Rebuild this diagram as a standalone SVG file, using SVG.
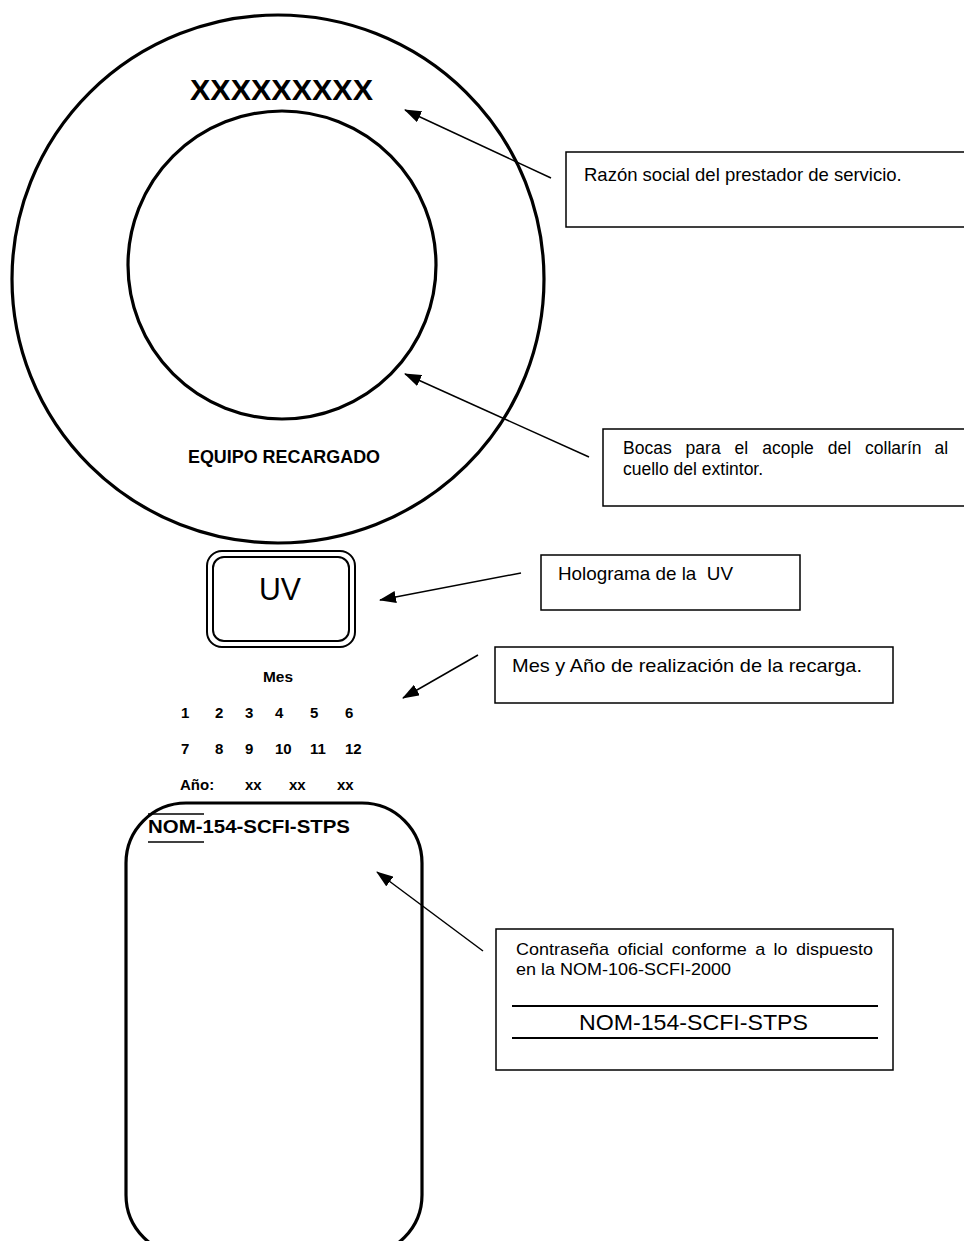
<svg xmlns="http://www.w3.org/2000/svg" width="964" height="1241" viewBox="0 0 964 1241">
<style>
.shape{fill:none;stroke:#000;stroke-width:3.2}
.box{fill:#fff;stroke:#000;stroke-width:1.5}
.con{fill:none;stroke:#000;stroke-width:1.5}
.t{font-family:"Liberation Sans",Arial,sans-serif;fill:#000}
.b{font-weight:bold}
.lbl{font-size:18px}
.num{font-size:15px;font-weight:bold}
</style>
<defs>
<marker id="ah" markerUnits="userSpaceOnUse" markerWidth="17" markerHeight="12" refX="16" refY="6" orient="auto">
<path d="M0,0 L17,6 L0,12 Z" fill="#000"/>
</marker>
</defs>
<rect width="964" height="1241" fill="#fff"/>

<g id="collarin">
<ellipse class="shape" cx="278" cy="279" rx="266" ry="264"/>
<ellipse class="shape" cx="282" cy="265" rx="154" ry="154"/>
<text class="t b" x="190" y="100" font-size="29" textLength="183" lengthAdjust="spacingAndGlyphs">XXXXXXXXX</text>
<text class="t b" x="188" y="463" font-size="17.5" textLength="192" lengthAdjust="spacingAndGlyphs">EQUIPO RECARGADO</text>
</g>

<g id="holograma">
<rect x="207" y="551" width="148" height="96" rx="15" fill="none" stroke="#000" stroke-width="2"/>
<rect x="213" y="557" width="136" height="84" rx="11" fill="none" stroke="#000" stroke-width="2"/>
<text class="t" x="259" y="600" font-size="32" textLength="42" lengthAdjust="spacingAndGlyphs">UV</text>
</g>

<g id="fecha">
<text class="t b" x="263" y="682" font-size="15.5" textLength="30" lengthAdjust="spacingAndGlyphs">Mes</text>
<text class="t num" y="718"><tspan x="181">1</tspan><tspan x="215">2</tspan><tspan x="245">3</tspan><tspan x="275">4</tspan><tspan x="310">5</tspan><tspan x="345">6</tspan></text>
<text class="t num" y="754"><tspan x="181">7</tspan><tspan x="215">8</tspan><tspan x="245">9</tspan><tspan x="275">10</tspan><tspan x="310">11</tspan><tspan x="345">12</tspan></text>
<text class="t num" y="790"><tspan x="180">Año:</tspan><tspan x="245">xx</tspan><tspan x="289">xx</tspan><tspan x="337">xx</tspan></text>
</g>

<g id="contrasena">
<rect class="shape" x="126" y="803" width="296" height="452" rx="60"/>
<text class="t b" x="148" y="833" font-size="18" textLength="202" lengthAdjust="spacingAndGlyphs">NOM-154-SCFI-STPS</text>
<line x1="148" y1="814" x2="204" y2="814" stroke="#000" stroke-width="1.5"/>
<line x1="148" y1="842" x2="204" y2="842" stroke="#000" stroke-width="1.5"/>
</g>

<g id="nota-razon">
<rect class="box" x="566" y="152" width="410" height="75"/>
<text class="t" x="584" y="181" font-size="18.5">Razón social del prestador de servicio.</text>
</g>

<g id="nota-bocas">
<rect class="box" x="603" y="429" width="380" height="77"/>
<text class="t" font-size="17.5" y="454"><tspan x="623">Bocas</tspan><tspan x="685.6">para</tspan><tspan x="734.6">el</tspan><tspan x="762.2">acople</tspan><tspan x="827.8">del</tspan><tspan x="865.1">collarín</tspan><tspan x="934.5">al</tspan></text>
<text class="t" font-size="17.5" x="623" y="475">cuello del extintor.</text>
</g>

<g id="nota-holograma">
<rect class="box" x="541" y="555" width="259" height="55"/>
<text class="t" x="558" y="580" font-size="18.5" xml:space="preserve" textLength="175" lengthAdjust="spacingAndGlyphs">Holograma de la  UV</text>
</g>

<g id="nota-fecha">
<rect class="box" x="495" y="647" width="398" height="56"/>
<text class="t" x="512" y="672" font-size="19" textLength="350" lengthAdjust="spacingAndGlyphs">Mes y Año de realización de la recarga.</text>
</g>

<g id="nota-contrasena">
<rect class="box" x="496" y="929" width="397" height="141"/>
<text class="t lbl" transform="translate(0,955) scale(1,0.9)" y="0"><tspan x="516">Contraseña</tspan><tspan x="617.4">oficial</tspan><tspan x="671.8">conforme</tspan><tspan x="755.2">a</tspan><tspan x="773.6">lo</tspan><tspan x="796">dispuesto</tspan></text>
<text class="t lbl" transform="translate(0,975) scale(1,0.9)" x="516" y="0">en la NOM-106-SCFI-2000</text>
<line x1="512" y1="1006" x2="878" y2="1006" stroke="#000" stroke-width="2"/>
<text class="t" x="579" y="1030" font-size="22" textLength="229" lengthAdjust="spacingAndGlyphs">NOM-154-SCFI-STPS</text>
<line x1="512" y1="1038" x2="878" y2="1038" stroke="#000" stroke-width="2"/>
</g>

<g id="connectors">
<line class="con" x1="551" y1="178" x2="405" y2="110" marker-end="url(#ah)"/>
<line class="con" x1="589" y1="457" x2="405" y2="374" marker-end="url(#ah)"/>
<line class="con" x1="521" y1="573" x2="380" y2="600" marker-end="url(#ah)"/>
<line class="con" x1="478" y1="655" x2="403" y2="698" marker-end="url(#ah)"/>
<line class="con" x1="483" y1="951" x2="377" y2="872" marker-end="url(#ah)"/>
</g>
</svg>
